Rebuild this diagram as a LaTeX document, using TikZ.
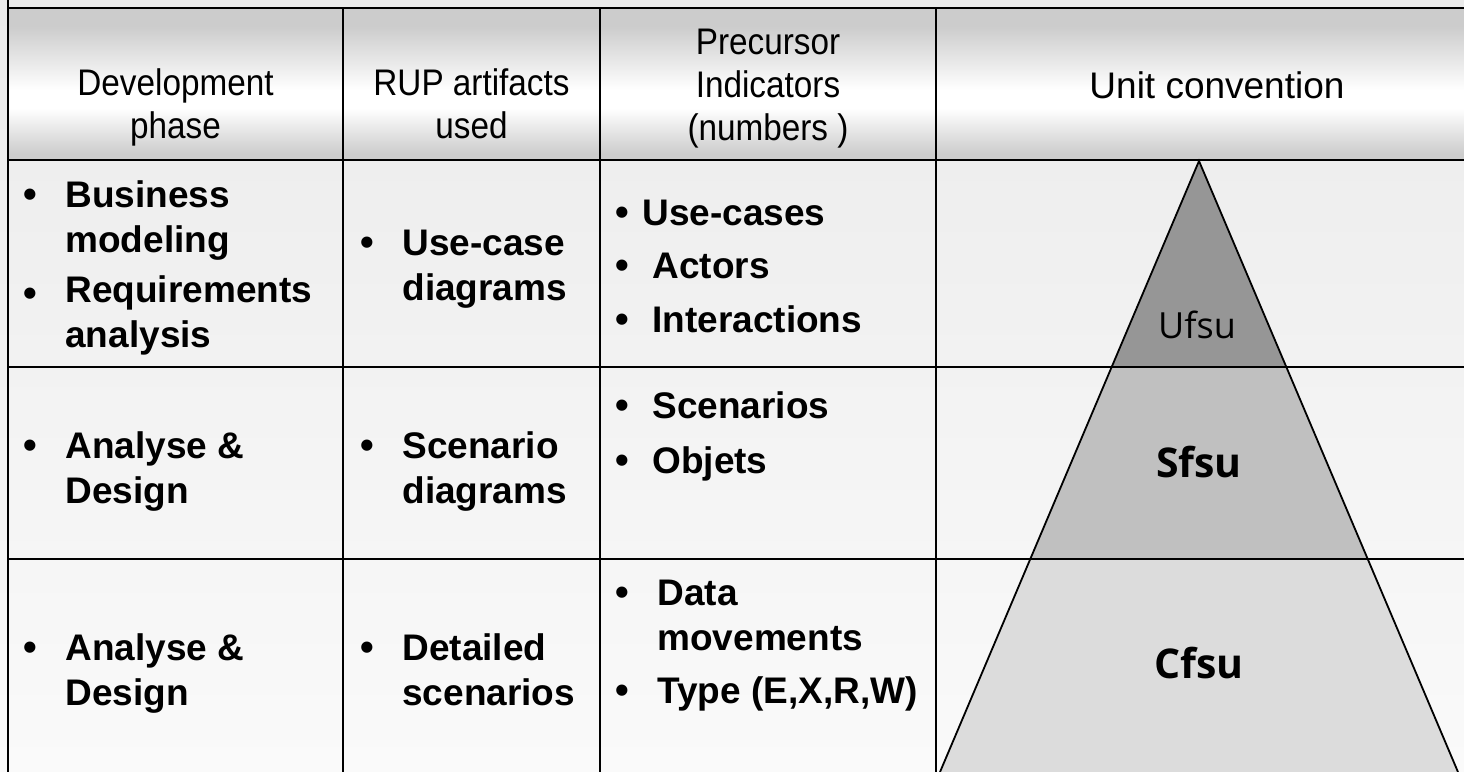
\documentclass[tikz,border=0pt]{standalone}
\usepackage{fontspec}
\setmainfont{Liberation Sans}
\newfontfamily\hdfont[FakeStretch=0.9]{Liberation Sans}
\newfontfamily\tierfont{Open Sans}
\usepackage{xcolor}
\definecolor{bgtop}{RGB}{235,235,235}
\definecolor{bgbot}{RGB}{250,250,250}
\definecolor{hdgray}{RGB}{204,204,204}
\definecolor{ufsu}{RGB}{150,150,150}
\definecolor{sfsu}{RGB}{192,192,192}
\definecolor{cfsu}{RGB}{220,220,220}
\usepackage{tikz}
\usetikzlibrary{calc}
\pgfdeclareverticalshading{hdband}{100bp}{
  color(0bp)=(hdgray); color(27bp)=(hdgray); color(42bp)=(white);
  color(48bp)=(white); color(69bp)=(hdgray); color(100bp)=(hdgray)}
\tikzset{
  gridline/.style={line width=1.3pt, black},
  hdtext/.style={font=\hdfont\fontsize{18.5}{21.5}\selectfont, align=center,
    anchor=base, inner sep=0pt},
  cell/.style={font=\fontsize{18.5}{22.5}\selectfont\bfseries, align=left,
    anchor=base west, inner sep=0pt},
  bul/.style={font=\fontsize{19.5}{22.5}\selectfont\bfseries, anchor=base, inner sep=0pt},
  tier/.style={draw=black, line width=0.9pt},
  tierlabel/.style={font=\tierfont\fontsize{18}{20}\selectfont, inner sep=0pt},
  tierbold/.style={font=\tierfont\fontsize{20.5}{22}\selectfont\bfseries, inner sep=0pt}
}

\begin{document}
\begin{tikzpicture}[x=0.5pt, y=-0.5pt]

  \useasboundingbox (0,0) rectangle (1464,772);
  \shade[top color=bgtop, bottom color=bgbot] (0,0) rectangle (1464,772);
  \shade[shading=hdband] (8,8) rectangle (1464,160);

  % pyramid
  \coordinate (apex) at (1199,161);
  \coordinate (u1) at (1111.5,367); \coordinate (u2) at (1286.5,367);
  \coordinate (s1) at (1030,559);   \coordinate (s2) at (1368,559);
  \coordinate (c1) at (940,772);    \coordinate (c2) at (1458,772);
  \fill[cfsu] (s1) -- (s2) -- (c2) -- (c1) -- cycle;
  \fill[sfsu] (u1) -- (u2) -- (s2) -- (s1) -- cycle;
  \fill[ufsu] (apex) -- (u2) -- (u1) -- cycle;
  \draw[tier] (c1) -- (apex) -- (c2);

  % table rules
  \draw[gridline] (8,0) -- (8,772);
  \foreach \ry in {8,160,367,559}
    \draw[gridline] (8,\ry) -- (1464,\ry);
  \foreach \cx in {343,600,936}
    \draw[gridline] (\cx,8) -- (\cx,772);

  % header (base = last line)
  \node[hdtext] (hdphase) at (175.5,138) {Development\\phase};
  \node[hdtext] (hdrup)   at (471.5,138) {RUP artifacts\\used};
  \node[hdtext] (hdprec)  at (768,140)   {Precursor\\Indicators\\(numbers )};
  \node[hdtext, font=\fontsize{18.5}{22}\selectfont] (hdunit) at (1217,98) {Unit convention};

  % bullets
  \foreach \bx/\by [count=\i] in {30/207, 30/306, 30/458, 30/660,
      367/255, 367/458, 367/660,
      622/225, 622/278, 622/332, 622/418, 622/473, 622/605, 622/703}
    \node[bul] (bul\i) at (\bx,\by) {\textbullet};

  % phases
  \node[cell] (bizmod)  at (65,252) {Business\\modeling};
  \node[cell] (reqana)  at (65,347) {Requirements\\analysis};
  \node[cell] (anades)  at (65,503) {Analyse \&\\Design};
  \node[cell] (anadet)  at (65,705) {Analyse \&\\Design};

  % artifacts
  \node[cell] (ucdiag)  at (402,300) {Use-case\\diagrams};
  \node[cell] (scdiag)  at (402,503) {Scenario\\diagrams};
  \node[cell] (detscen) at (402,705) {Detailed\\scenarios};

  % indicators
  \node[cell] (usecases) at (642,225) {Use-cases};
  \node[cell] (actors)   at (652,278) {Actors};
  \node[cell] (interact) at (652,332) {Interactions};
  \node[cell] (scens)    at (652,418) {Scenarios};
  \node[cell] (objets)   at (652,473) {Objets};
  \node[cell] (datamov)  at (657,650) {Data\\movements};
  \node[cell] (types)    at (657,703) {Type (E,X,R,W)};

  % unit levels
  \node[tierlabel] (ufsulab) at (1197,325) {Ufsu};
  \node[tierbold]  (sfsulab) at (1199,462) {Sfsu};
  \node[tierbold]  (cfsulab) at (1199,663) {Cfsu};

\end{tikzpicture}
\end{document}
